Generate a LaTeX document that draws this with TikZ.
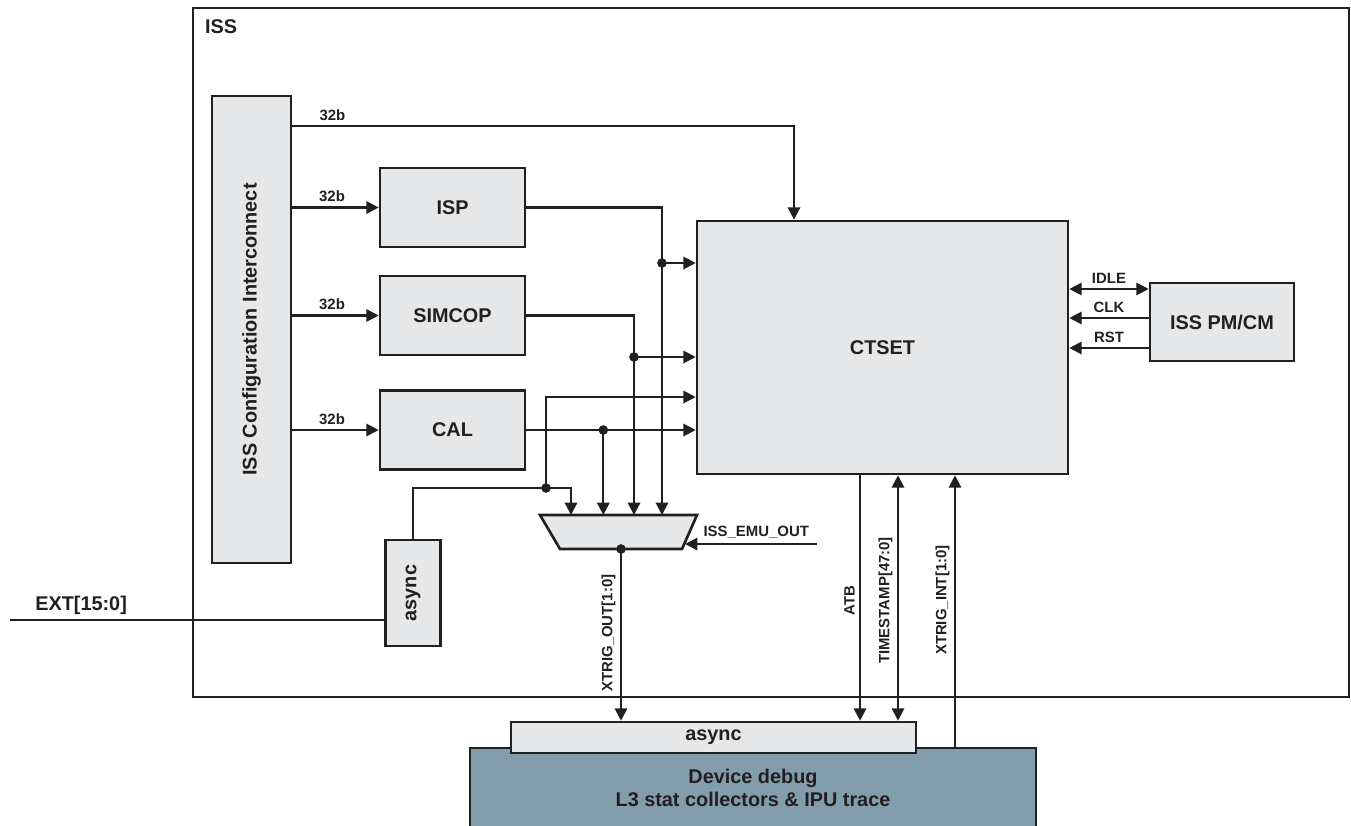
\documentclass[tikz,border=0pt]{standalone}
\usepackage{fontspec}
\setmainfont{Liberation Sans}
\usepackage{tikz}
\usetikzlibrary{arrows.meta,calc}
\definecolor{boxgray}{HTML}{E6E7E8}
\definecolor{debugblue}{HTML}{829EAC}
\definecolor{ink}{HTML}{231F20}
\newcommand{\boxfont}{\fontsize{11.3}{13.5}\selectfont\bfseries}
\newcommand{\sigfont}{\fontsize{8.5}{10}\selectfont\bfseries}

\begin{document}
\begin{tikzpicture}[x=0.02cm,y=-0.02cm,line width=1.2pt,color=ink,
  blk/.style={draw,fill=boxgray,font=\boxfont,inner sep=0pt,line width=1.5pt},
  sig/.style={-{Triangle[length=7pt,width=7pt]}},
  bisig/.style={{Triangle[length=7pt,width=7pt]}-{Triangle[length=7pt,width=7pt]}},
  lbl/.style={font=\sigfont,inner sep=2.5pt},
  dot/.style={circle,fill,inner sep=0pt,minimum size=5.5pt}]
  \useasboundingbox (0,0) rectangle (1351,825);

  %% ISS frame
  \node[draw,minimum width=23.12cm,minimum height=13.78cm,inner sep=0pt] (iss) at (771,352.5) {};
  \node[font=\boxfont,anchor=base west,inner sep=0pt] (isslbl) at ($(iss.north west)+(12,26)$) {ISS};

  %% blocks
  \node[blk,minimum width=1.58cm,minimum height=9.34cm] (cfg) at (251.5,329.5) {\rotatebox{90}{ISS Configuration Interconnect}};
  \node[blk,minimum width=2.9cm,minimum height=1.58cm] (isp) at (452.5,207.5) {ISP};
  \node[blk,minimum width=2.9cm,minimum height=1.58cm] (simcop) at (452.5,315.5) {SIMCOP};
  \node[blk,minimum width=2.9cm,minimum height=1.58cm] (cal) at (452.5,430) {CAL};
  \node[blk,minimum width=1.1cm,minimum height=2.12cm] (asyncL) at (413,593) {\rotatebox{90}{async}};
  \node[blk,minimum width=7.42cm,minimum height=5.06cm] (ctset) at (882.5,347.5) {CTSET};
  \node[blk,minimum width=2.88cm,minimum height=1.56cm] (pmcm) at (1222,322) {ISS PM/CM};

  %% mux
  \draw[fill=boxgray,line width=1.5pt] (540,515) -- (697,515) -- (682,549) -- (560,549) -- cycle;
  \coordinate (muxN) at (618.5,515);
  \coordinate (muxS) at (621,549);

  %% device debug
  \node[draw,fill=debugblue,line width=1.5pt,minimum width=11.32cm,minimum height=1.6cm,align=center,font=\boxfont] (dev) at (753,788)
    {Device debug\\L3 stat collectors \& IPU trace};
  \node[blk,minimum width=8.1cm,minimum height=0.62cm] (asyncB) at (713.5,737.5) {async};

  %% junctions and ports
  \coordinate (jI) at (662,263);
  \coordinate (jS) at (634,357);
  \coordinate (jC) at ($(cal.east)+(77,0)$);
  \coordinate (jA) at (546,488);
  \coordinate (mi1) at ($(muxN)+(-47.5,0)$);
  \coordinate (cfgTop) at ($(cfg.north east)+(0,31)$);
  \coordinate (ctIn) at ($(ctset.north)+(-88.5,0)$);
  \coordinate (ctA) at ($(ctset.west)+(0,49.5)$);
  \coordinate (atb) at ($(ctset.south)+(-22.5,0)$);
  \coordinate (ts) at ($(ctset.south)+(15.5,0)$);
  \coordinate (xi) at ($(ctset.south)+(72.5,0)$);
  \coordinate (pIdle) at ($(pmcm.west)+(0,-33)$);
  \coordinate (pClk) at ($(pmcm.west)+(0,-4)$);
  \coordinate (pRst) at ($(pmcm.west)+(0,26)$);
  \coordinate (ext) at (10,620);
  \coordinate (emu) at (817,544);
  \coordinate (emuIn) at (685,544);

  %% configuration buses
  \draw[sig] (cfgTop) -| node[lbl,above,pos=0.04]{32b} (ctIn);
  \draw[sig] (cfg.east |- isp) -- node[lbl,above,pos=0.46]{32b} (isp.west);
  \draw[sig] (cfg.east |- simcop) -- node[lbl,above,pos=0.46]{32b} (simcop.west);
  \draw[sig] (cfg.east |- cal) -- node[lbl,above,pos=0.46]{32b} (cal.west);

  %% triggers to CTSET and mux
  \draw[sig] (isp.east) -| (jI |- muxN);
  \draw[sig] (jI) -- (jI -| ctset.west);
  \draw[sig] (simcop.east) -| (jS |- muxN);
  \draw[sig] (jS) -- (jS -| ctset.west);
  \draw[sig] (cal.east) -- (cal.east -| ctset.west);
  \draw[sig] (jC) -- (jC |- muxN);
  \draw[sig] (asyncL.north) |- (jA) -| (mi1);
  \draw[sig] (jA) |- (ctA);
  \draw (ext) -- node[pos=0.19,above,font=\boxfont,inner sep=2.5pt]{EXT[15:0]} (ext -| asyncL.west);
  \draw[sig] (emu) -- node[lbl,above,pos=0.46]{ISS\_EMU\_OUT} (emuIn);
  \node[dot] (dI) at (jI) {};
  \node[dot] (dS) at (jS) {};
  \node[dot] (dC) at (jC) {};
  \node[dot] (dA) at (jA) {};
  \node[dot] (dM) at (muxS) {};

  %% debug paths
  \draw[sig] (muxS) -- node[lbl,rotate=90,above,pos=0.49]{XTRIG\_OUT[1:0]} (muxS |- asyncB.north);
  \draw[sig] (atb) -- node[lbl,rotate=90,above,pos=0.51]{ATB} (atb |- asyncB.north);
  \draw[bisig] (ts) -- node[lbl,rotate=90,above,pos=0.51]{TIMESTAMP[47:0]} (ts |- asyncB.north);
  \draw[sig] (xi |- dev.north) -- node[lbl,rotate=90,above,pos=0.54]{XTRIG\_INT[1:0]} (xi);

  %% power and clock
  \draw[bisig] (pIdle) -- node[lbl,above]{IDLE} (pIdle -| ctset.east);
  \draw[sig] (pClk) -- node[lbl,above]{CLK} (pClk -| ctset.east);
  \draw[sig] (pRst) -- node[lbl,above]{RST} (pRst -| ctset.east);
\end{tikzpicture}
\end{document}
